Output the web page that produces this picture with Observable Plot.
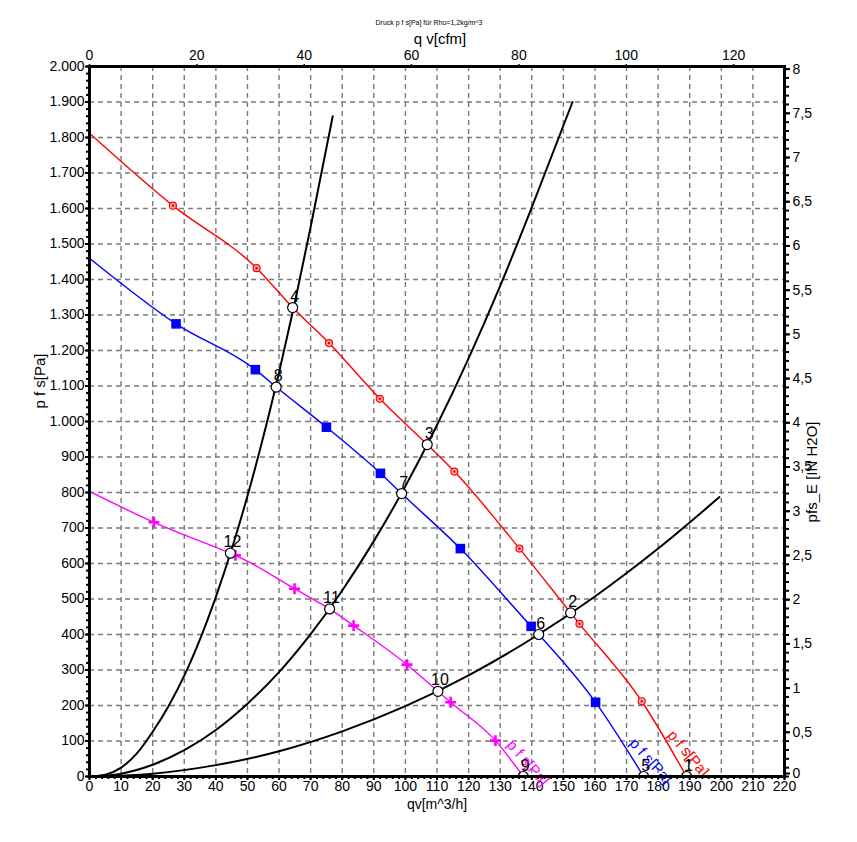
<!DOCTYPE html>
<html>
<head>
<meta charset="utf-8">
<script src="https://cdn.jsdelivr.net/npm/d3@7"></script>
<script src="https://cdn.jsdelivr.net/npm/@observablehq/plot@0.6"></script>
<style>
  html, body { margin: 0; padding: 0; background: #fff; }
  #chart svg { display: block; }
</style>
</head>
<body>
<div id="chart"></div>
<script>
// ---------- data ----------
const titleText = "Druck p f s[Pa] für Rho=1,2kg/m^3";
const xLabelBottom = "qv[m^3/h]";
const xLabelTop = "q v[cfm]";
const yLabelLeft = "p f s[Pa]";
const yLabelRight = "pfs_E [IN H2O]";
const curveLabel = "p f s[Pa]";

// fan curve, highest speed (red)
const redQ = [0, 26.4, 52.9, 64.3, 75.8, 91.9, 106.9, 115.5, 136.1, 152.3, 155.1, 174.8, 189];
const redP = [1812, 1608, 1432, 1321, 1221, 1064, 935, 859, 642, 461, 430, 212, 0];
const redMarkQ = [26.4, 52.9, 75.8, 91.9, 115.5, 136.1, 155.1, 174.8];
const redMarkP = [1608, 1432, 1221, 1064, 859, 642, 430, 212];

// fan curve, middle speed (blue)
const blueQ = [0, 27.4, 52.5, 59.1, 75, 92.1, 98.8, 117.4, 139.8, 142.2, 160.2, 175.4];
const blueP = [1460, 1275, 1146, 1097, 984, 854, 797, 642, 423, 400, 209, 0];
const blueMarkQ = [27.4, 52.5, 75, 92.1, 117.4, 139.8, 160.2];
const blueMarkP = [1275, 1146, 984, 854, 642, 423, 209];

// fan curve, lowest speed (magenta)
const magQ = [0, 20.4, 44.6, 46.2, 64.9, 76, 83.6, 100.5, 110.3, 114.3, 128.5, 137.3];
const magP = [803, 716, 629, 623, 529, 472, 425, 315, 240, 209, 101, 0];
const magMarkQ = [20.4, 46.2, 64.9, 83.6, 100.5, 114.3, 128.5];
const magMarkP = [716, 623, 529, 425, 315, 209, 101];

// system resistance curves (black)
const sysAQ = [0, 5, 10, 15, 20, 25, 30, 35, 40, 45, 50, 55, 60, 65, 70, 77];
const sysAP = [0, 5, 25, 65, 126, 198, 284, 387, 506, 640, 790, 956, 1138, 1335, 1548, 1860];
const sysBQ = [0, 10, 20, 30, 40, 50, 60, 70, 80, 90, 100, 110, 120, 130, 140, 152.9];
const sysBP = [0, 8, 33, 74, 131, 205, 294, 401, 524, 663, 818, 990, 1178, 1382, 1603, 1900];
const sysCQ = [0, 20, 40, 60, 80, 100, 120, 140, 160, 180, 199.4];
const sysCP = [0, 8, 32, 71, 127, 198, 285, 388, 507, 642, 787];

// operating points 1..12
const opLabel = ["1","2","3","4","5","6","7","8","9","10","11","12"];
const opQ = [189, 152.3, 106.9, 64.3, 175.4, 142.2, 98.8, 59.1, 137.3, 110.3, 76, 44.6];
const opP = [0, 461, 935, 1321, 0, 400, 797, 1097, 0, 240, 472, 629];

// curve name labels (start position)
const lblQ = [183.9, 171.8, 133];
const lblP = [124, 101, 97];
const lblColor = ["#ff0000", "#0000ff", "#ff00ff"];
const lblAngle = [50, 48, 49];

// ticks
const xTicks = [0,10,20,30,40,50,60,70,80,90,100,110,120,130,140,150,160,170,180,190,200,210,220];
const yTicks = [0,100,200,300,400,500,600,700,800,900,1000,1100,1200,1300,1400,1500,1600,1700,1800,1900,2000];
const cfmTicks = [0,20,40,60,80,100,120];
const inTicks = [0.5,1,1.5,2,2.5,3,3.5,4,4.5,5,5.5,6,6.5,7,7.5,8];
const inZeroTick = [0];

// unit conversions (library scale positions)
const M3H_PER_CFM = 1.699011;
const PA_PER_INH2O = 249.089;

// ---------- helpers ----------
const de = d3.formatLocale({decimal: ",", thousands: ".", grouping: [3], currency: ["", "€"]});
const fmtPa = de.format(",d");
const fmtIn = de.format(".1~f");
const pts = (qs, ps) => qs.map((q, i) => ({q, p: ps[i]}));
const xMinor = d3.range(0, 221, 2);
const yMinor = d3.range(0, 2001, 20);
const cfmMinor = d3.range(0, 126, 5).map(c => c * M3H_PER_CFM);
const inMinor = d3.range(0, 81, 1).map(v => v / 10 * PA_PER_INH2O);
const FONT = "'Liberation Sans Narrow', 'Liberation Sans', Arial, sans-serif";

const gridStyle = {stroke: "#7a7a7a", strokeOpacity: 1, strokeWidth: 1.4, strokeDasharray: "5,4"};

const chart = Plot.plot({
  width: 857,
  height: 842,
  marginLeft: 89,
  marginRight: 73,
  marginTop: 66,
  marginBottom: 66,
  style: {fontFamily: FONT, fontSize: "14px", color: "black", background: "white"},
  x: {domain: [0, 220]},
  y: {domain: [0, 2000]},
  marks: [
    // grid
    Plot.gridX(xTicks, gridStyle),
    Plot.gridY(yTicks, gridStyle),

    // axes: bottom m^3/h
    Plot.axisX({anchor: "bottom", ticks: xMinor, tickSize: 3, strokeWidth: 2, tickFormat: () => "", label: null}),
    Plot.axisX({anchor: "bottom", ticks: xTicks, tickSize: 4, strokeWidth: 2, tickPadding: 1, fontSize: 14, label: null, tickFormat: d => String(d)}),
    // top cfm
    Plot.axisX({anchor: "top", ticks: cfmMinor, tickSize: 2, strokeWidth: 1.5, tickFormat: () => "", label: null}),
    Plot.axisX({anchor: "top", ticks: cfmTicks.map(c => c * M3H_PER_CFM), tickSize: 3, strokeWidth: 1.5, tickPadding: 4, fontSize: 14, label: null,
      tickFormat: d => String(Math.round(d / M3H_PER_CFM))}),
    // left Pa
    Plot.axisY({anchor: "left", ticks: yMinor, tickSize: 3, strokeWidth: 2, tickFormat: () => "", label: null}),
    Plot.axisY({anchor: "left", ticks: yTicks, tickSize: 4, strokeWidth: 2, tickPadding: 1, fontSize: 14, label: null, tickFormat: d => fmtPa(d)}),
    // right in H2O
    Plot.axisY({anchor: "right", ticks: inMinor, tickSize: 4, strokeWidth: 2, tickFormat: () => "", label: null}),
    Plot.axisY({anchor: "right", ticks: inTicks.map(v => v * PA_PER_INH2O), tickSize: 5, strokeWidth: 2, tickPadding: 3, fontSize: 14, label: null,
      tickFormat: d => fmtIn(d / PA_PER_INH2O)}),
    Plot.axisY({anchor: "right", ticks: inZeroTick.map(v => v * PA_PER_INH2O), tickSize: 5, strokeWidth: 2, tickPadding: 3, fontSize: 14, label: null,
      dy: -3, tickFormat: d => fmtIn(d / PA_PER_INH2O)}),

    // system curves
    Plot.line(pts(sysAQ, sysAP), {x: "q", y: "p", stroke: "black", strokeWidth: 2, curve: "monotone-x"}),
    Plot.line(pts(sysBQ, sysBP), {x: "q", y: "p", stroke: "black", strokeWidth: 2, curve: "monotone-x"}),
    Plot.line(pts(sysCQ, sysCP), {x: "q", y: "p", stroke: "black", strokeWidth: 2, curve: "monotone-x"}),

    // fan curves
    Plot.line(pts(redQ, redP), {x: "q", y: "p", stroke: "#ff0000", strokeWidth: 1.4, curve: "monotone-x"}),
    Plot.line(pts(blueQ, blueP), {x: "q", y: "p", stroke: "#0000ff", strokeWidth: 1.4, curve: "monotone-x"}),
    Plot.line(pts(magQ, magP), {x: "q", y: "p", stroke: "#ff00ff", strokeWidth: 1.4, curve: "monotone-x"}),

    // markers
    Plot.dot(pts(redMarkQ, redMarkP), {x: "q", y: "p", r: 3.5, stroke: "#ff0000", strokeWidth: 1.2, fill: "#ffb0b0"}),
    Plot.dot(pts(redMarkQ, redMarkP), {x: "q", y: "p", r: 1.3, fill: "#ff0000", stroke: "none"}),
    Plot.dot(pts(blueMarkQ, blueMarkP), {x: "q", y: "p", symbol: "square", r: 5.4, fill: "#0000ff", stroke: "none"}),
    Plot.dot(pts(magMarkQ, magMarkP), {x: "q", y: "p", symbol: "plus", r: 3.6, stroke: "#ff00ff", strokeWidth: 2.6, fill: "none"}),

    // curve labels
    ...lblQ.map((q, i) => Plot.text([curveLabel], {
      x: () => q, y: () => lblP[i], text: d => d, rotate: lblAngle[i], textAnchor: "start",
      fill: lblColor[i], fontSize: 15
    })),

    // operating points
    Plot.dot(opLabel, {x: (d, i) => opQ[i], y: (d, i) => opP[i], r: 5, fill: "white", stroke: "black", strokeWidth: 1.2, clip: true}),
    Plot.text(opLabel, {x: (d, i) => opQ[i], y: (d, i) => opP[i], text: d => d, dx: 2, dy: -11, fontSize: 16, fill: "black"}),

    // frame
    Plot.frame({stroke: "black", strokeWidth: 3}),

    // titles and axis labels
    Plot.text([titleText], {frameAnchor: "top", dy: -46, dx: -8, fontSize: 7, fontFamily: "'Liberation Sans', Arial, sans-serif", text: d => d}),
    Plot.text([xLabelTop], {frameAnchor: "top", dx: 3, dy: -33, fontSize: 15, text: d => d}),
    Plot.text([xLabelBottom], {frameAnchor: "bottom", dy: 32, fontSize: 14, text: d => d}),
    Plot.text([yLabelLeft], {frameAnchor: "left", dx: -49, dy: -13, rotate: -90, fontSize: 15, text: d => d}),
    Plot.text([yLabelRight], {frameAnchor: "right", dx: 28, rotate: -90, fontSize: 15, text: d => d})
  ]
});

document.getElementById("chart").appendChild(chart);
</script>
</body>
</html>
